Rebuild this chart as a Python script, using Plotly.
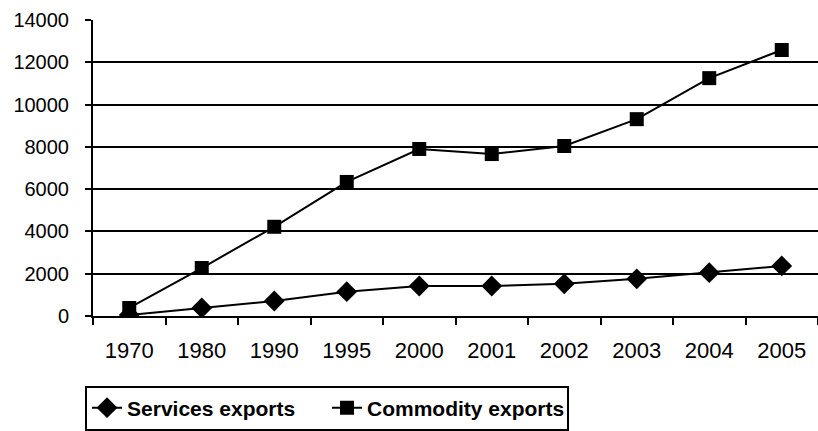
import plotly.graph_objects as go

years = ["1970", "1980", "1990", "1995", "2000", "2001", "2002", "2003", "2004", "2005"]
services = [50, 380, 710, 1150, 1420, 1420, 1520, 1760, 2050, 2370]
commodity = [380, 2270, 4220, 6340, 7900, 7660, 8040, 9310, 11250, 12580]

fig = go.Figure()
fig.add_trace(go.Scatter(x=years, y=services, name="Services exports", mode="lines+markers",
                         line=dict(color="black", width=2),
                         marker=dict(symbol="diamond", size=16, color="black")))
fig.add_trace(go.Scatter(x=years, y=commodity, name="Commodity exports", mode="lines+markers",
                         line=dict(color="black", width=2),
                         marker=dict(symbol="square", size=14, color="black")))

fig.update_layout(
    width=818, height=431,
    margin=dict(l=93, r=0, t=20, b=115, autoexpand=False),
    plot_bgcolor="white", paper_bgcolor="white",
    font=dict(family="Liberation Sans, Arial", size=20, color="black"),
    showlegend=True,
    legend=dict(orientation="h", x=-0.011, y=-0.235, xanchor="left", yanchor="top",
                bordercolor="black", borderwidth=2,
                font=dict(size=21, family="Liberation Sans, Arial", weight="bold"),
                itemwidth=30, tracegroupgap=0, entrywidth=195, entrywidthmode="pixels"),
)
fig.update_xaxes(type="category", showline=True, linecolor="black", linewidth=2,
                 ticks="outside", tickson="boundaries", ticklen=7, tickwidth=2, tickcolor="black",
                 showgrid=False, range=[-0.5, 9.5], tickfont=dict(size=22),
                 ticklabelstandoff=14, automargin=False)
fig.update_yaxes(range=[0, 14000], dtick=2000, showline=True, linecolor="black", linewidth=2,
                 ticks="outside", ticklen=6, tickwidth=2, tickcolor="black",
                 showgrid=True, gridcolor="black", gridwidth=2, zeroline=False,
                 tickformat="d", tickfont=dict(size=20), ticklabelstandoff=12, automargin=False)

fig.write_html("out.html")
